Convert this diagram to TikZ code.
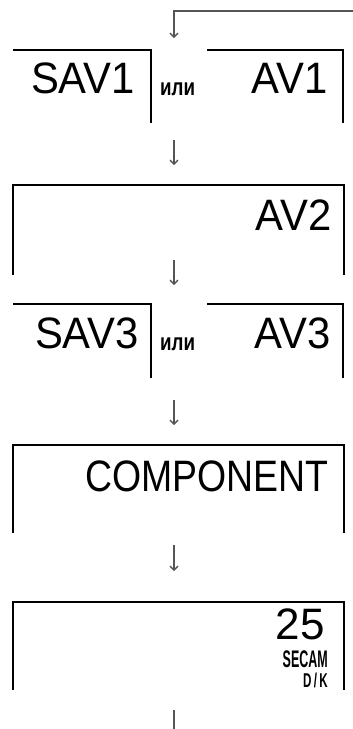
\documentclass[tikz,border=0pt]{standalone}
\usepackage{fontspec}
\usepackage{graphicx}
\setmainfont{Liberation Sans}
\usetikzlibrary{arrows.meta}
\definecolor{arrgray}{HTML}{555555}
\newcommand{\narrowtxt}[1]{\scalebox{0.95}[1]{#1}}
\tikzset{
  frame/.style={inner sep=0pt, outer sep=0pt, draw=none},
  edgeline/.style={black, line width=1.2pt},
  flowarrow/.style={arrgray, line width=1.6pt, -{Straight Barb[length=4pt,width=8pt,line width=1.4pt]}},
  flowline/.style={arrgray, line width=1.6pt},
  bigtxt/.style={inner sep=0pt, anchor=base east, font=\fontsize{44}{44}\selectfont},
  ortxt/.style={inner sep=0pt, anchor=base west, font=\fontsize{24}{24}\selectfont\bfseries},
}
\begin{document}
\begin{tikzpicture}[x=1pt,y=-1pt]
\useasboundingbox (0,0) rectangle (353,729);
% frames (invisible nodes, borders drawn partially)
\node[frame, minimum width=138pt, minimum height=73pt] (sav1) at (82,86.5) {};
\node[frame, minimum width=136pt, minimum height=73pt] (av1) at (275,86.5) {};
\node[frame, minimum width=331pt, minimum height=90pt] (av2) at (178.5,230) {};
\node[frame, minimum width=138pt, minimum height=74pt] (sav3) at (82,341) {};
\node[frame, minimum width=136pt, minimum height=74pt] (av3) at (275,341) {};
\node[frame, minimum width=331pt, minimum height=88pt] (comp) at (178.5,489) {};
\node[frame, minimum width=331pt, minimum height=88pt] (b25) at (178.5,646) {};

\draw[edgeline] (sav1.north west) -- (sav1.north east) -- (sav1.south east);
\draw[edgeline] (av1.north west) -- (av1.north east) -- (av1.south east);
\draw[edgeline] (av2.south west) -- (av2.north west) -- (av2.north east) -- (av2.south east);
\draw[edgeline] (sav3.north west) -- (sav3.north east) -- (sav3.south east);
\draw[edgeline] (av3.north west) -- (av3.north east) -- (av3.south east);
\draw[edgeline] (comp.south west) -- (comp.north west) -- (comp.north east) -- (comp.south east);
\draw[edgeline] (b25.south west) -- (b25.north west) -- (b25.north east) -- (b25.south east);

% texts
\node[bigtxt] (t1) at (135,93) {\narrowtxt{SAV1}};
\node[ortxt] (o1) at (160,95) {\scalebox{0.78}[1]{или}};
\node[bigtxt] (t2) at (328,93) {\narrowtxt{AV1}};
\node[bigtxt] (t3) at (332,230) {\narrowtxt{AV2}};
\node[bigtxt] (t4) at (139,348) {\narrowtxt{SAV3}};
\node[ortxt] (o2) at (160,350) {\scalebox{0.78}[1]{или}};
\node[bigtxt] (t5) at (331,348) {\narrowtxt{AV3}};
\node[bigtxt] (t6) at (329,491) {\scalebox{0.85}[1]{COMPONENT}};
\node[inner sep=0pt, anchor=base east, font=\fontsize{44}{44}\selectfont] (t7) at (325,639) {25};
\node[inner sep=0pt, anchor=base east, font=\fontsize{24}{24}\selectfont\bfseries] (t8) at (328,667) {\scalebox{0.52}[1]{SECAM}};
\node[inner sep=0pt, anchor=base east, font=\fontsize{20}{20}\selectfont\bfseries] (t9) at (328,687) {\scalebox{0.58}[1]{D\kern4pt/\kern4pt K}};

% connectors
\coordinate (loopR) at (353,11);
\coordinate (loopC) at (174,11);
\coordinate (a1e) at (174,38);
\coordinate (a2s) at (174,140);
\coordinate (a2e) at (174,165);
\coordinate (a3s) at (174,260);
\coordinate (a3e) at (174,285);
\coordinate (a4s) at (174,400);
\coordinate (a4e) at (174,425);
\coordinate (a5s) at (174,545);
\coordinate (a5e) at (174,571);
\coordinate (a6s) at (174,710);
\coordinate (a6e) at (174,729);
\draw[flowarrow] (loopR) -- (loopC) -- (a1e);
\draw[flowarrow] (a2s) -- (a2e);
\draw[flowarrow] (a3s) -- (a3e);
\draw[flowarrow] (a4s) -- (a4e);
\draw[flowarrow] (a5s) -- (a5e);
\draw[flowline] (a6s) -- (a6e);
\end{tikzpicture}
\end{document}
